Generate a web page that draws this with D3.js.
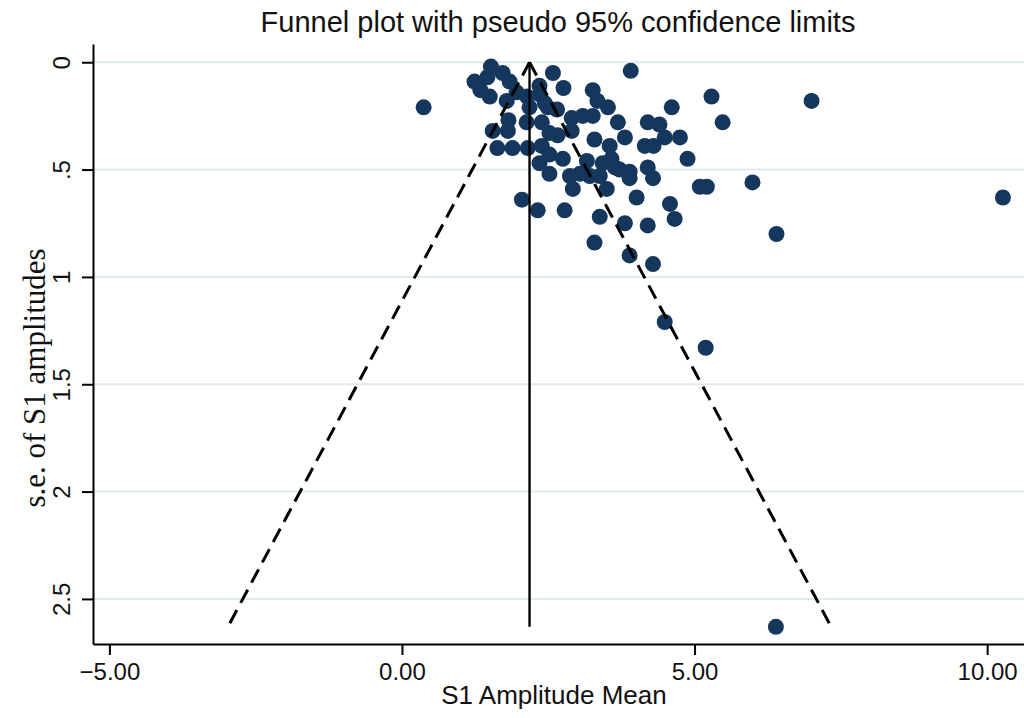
<!DOCTYPE html>
<html>
<head>
<meta charset="utf-8">
<script src="https://cdn.jsdelivr.net/npm/d3@7/dist/d3.min.js"></script>
<style>
  html, body { margin: 0; padding: 0; background: #fff; }
  svg { display: block; }
</style>
</head>
<body>
<svg id="chart" width="1024" height="718"></svg>
<script>
// Study effect sizes (S1 amplitude mean) and their standard errors
const studyMean = [
  1.52, 1.24, 1.46, 1.72, 1.84, 1.34, 1.50, 1.79, 1.96, 2.35,
  2.35, 2.58, 2.76, 3.26, 3.34, 3.52, 3.91, 4.61, 5.29, 7.00,
  0.37, 2.18, 2.49, 1.82, 1.81, 1.55, 2.13, 2.39, 2.52, 2.66,
  2.90, 3.09, 3.26, 2.90, 3.69, 4.20, 4.40, 5.48, 3.29, 3.55,
  3.81, 4.15, 4.30, 4.49, 4.75, 1.63, 1.89, 2.15, 2.39, 2.52,
  2.35, 2.52, 2.75, 2.87, 3.16, 3.43, 3.58, 3.64, 3.72, 3.89,
  3.89, 4.20, 4.29, 4.88, 3.04, 3.21, 3.38, 5.99, 5.09, 5.21,
  2.92, 3.50, 4.01, 4.58, 4.66, 2.05, 2.32, 2.78, 3.38, 3.81,
  4.20, 6.40, 3.29, 3.89, 4.29, 4.49, 5.19, 6.39, 10.27, 2.14,
  2.44, 2.65
];
const studySE = [
  0.02, 0.09, 0.07, 0.05, 0.09, 0.13, 0.16, 0.18, 0.14, 0.11,
  0.15, 0.05, 0.12, 0.13, 0.18, 0.21, 0.04, 0.21, 0.16, 0.18,
  0.21, 0.21, 0.21, 0.27, 0.32, 0.32, 0.28, 0.28, 0.33, 0.34,
  0.26, 0.25, 0.25, 0.32, 0.28, 0.28, 0.29, 0.28, 0.36, 0.39,
  0.35, 0.39, 0.39, 0.35, 0.35, 0.40, 0.40, 0.40, 0.39, 0.43,
  0.47, 0.52, 0.45, 0.53, 0.46, 0.47, 0.45, 0.49, 0.50, 0.51,
  0.54, 0.49, 0.54, 0.45, 0.52, 0.53, 0.53, 0.56, 0.58, 0.58,
  0.59, 0.59, 0.63, 0.66, 0.73, 0.64, 0.69, 0.69, 0.72, 0.75,
  0.76, 0.80, 0.84, 0.90, 0.94, 1.21, 1.33, 2.63, 0.63, 0.16,
  0.19, 0.22
];

// Pooled estimate and the largest standard error (funnel depth)
const pooledMean = 2.18;
const seMax = 2.63;
const zCrit = 1.96;

// Axis ticks
const xTicks = [-5, 0, 5, 10];
const yTicks = [0, 0.5, 1, 1.5, 2, 2.5];
const yTickLabels = ["0", ".5", "1", "1.5", "2", "2.5"];

const titleText = "Funnel plot with pseudo 95% confidence limits";
const xTitle = "S1 Amplitude Mean";
const yTitle = "s.e. of S1 amplitudes";

const svg = d3.select("#chart");
const W = 1024, H = 718;
const plot = { left: 93, right: 1024, top: 44, bottom: 644 };

const x = d3.scaleLinear().domain([-5.28, 10.63]).range([plot.left, plot.right]);
const y = d3.scaleLinear().domain([-0.085, 2.71]).range([plot.top, plot.bottom]);

svg.append("rect").attr("width", W).attr("height", H).attr("fill", "#fff");

// horizontal grid lines
svg.append("g")
  .selectAll("line")
  .data(yTicks)
  .join("line")
  .attr("x1", plot.left).attr("x2", plot.right)
  .attr("y1", d => y(d)).attr("y2", d => y(d))
  .attr("stroke", "#e0eaec")
  .attr("stroke-width", 2);

// study points
svg.append("g")
  .selectAll("circle")
  .data(studyMean.map((m, i) => ({ m, se: studySE[i] })))
  .join("circle")
  .attr("cx", d => x(d.m))
  .attr("cy", d => y(d.se))
  .attr("r", 8)
  .attr("fill", "#15375d");

// pooled estimate line and pseudo 95% limits
const lines = svg.append("g");
lines.append("line")
  .attr("x1", x(pooledMean)).attr("x2", x(pooledMean))
  .attr("y1", y(0)).attr("y2", y(seMax))
  .attr("stroke", "#000").attr("stroke-width", 2.4);

const funnel = d3.line().x(d => x(d[0])).y(d => y(d[1]));
[-1, 1].forEach(s => {
  lines.append("path")
    .attr("d", funnel([[pooledMean, 0], [pooledMean + s * zCrit * seMax, seMax]]))
    .attr("fill", "none")
    .attr("stroke", "#000")
    .attr("stroke-width", 3)
    .attr("stroke-dasharray", "15,8");
});

// axes
const xAxis = svg.append("g")
  .attr("transform", `translate(0,${plot.bottom})`)
  .call(d3.axisBottom(x).tickValues(xTicks).tickFormat(d3.format(".2f"))
    .tickSize(11).tickSizeOuter(0).tickPadding(8));
const yAxis = svg.append("g")
  .attr("transform", `translate(${plot.left},0)`)
  .call(d3.axisLeft(y).tickValues(yTicks).tickFormat((d, i) => yTickLabels[i])
    .tickSize(11).tickSizeOuter(0).tickPadding(10));

[xAxis, yAxis].forEach(g => {
  g.select(".domain").attr("stroke", "#000").attr("stroke-width", 2);
  g.selectAll(".tick line").attr("stroke", "#000").attr("stroke-width", 2);
  g.selectAll("text")
    .attr("fill", "#111")
    .style("font-family", "'Liberation Sans', Arial, sans-serif")
    .style("font-size", "24px");
});

xAxis.selectAll("text").attr("dy", "0.71em");
yAxis.selectAll(".tick text")
  .attr("text-anchor", "middle")
  .attr("x", null)
  .attr("dy", null)
  .attr("transform", "translate(-23,0) rotate(-90)");

// titles
svg.append("text")
  .attr("x", 558).attr("y", 32)
  .attr("text-anchor", "middle")
  .style("font-family", "'Liberation Sans', Arial, sans-serif")
  .style("font-size", "29px")
  .attr("fill", "#111")
  .text(titleText);

svg.append("text")
  .attr("x", 554).attr("y", 704)
  .attr("text-anchor", "middle")
  .style("font-family", "'Liberation Sans', Arial, sans-serif")
  .style("font-size", "26px")
  .attr("fill", "#111")
  .text(xTitle);

svg.append("text")
  .attr("transform", "translate(45,378) rotate(-90)")
  .attr("text-anchor", "middle")
  .style("font-family", "'Liberation Serif', 'Times New Roman', serif")
  .style("font-size", "31px")
  .attr("fill", "#111")
  .text(yTitle);
</script>
</body>
</html>
